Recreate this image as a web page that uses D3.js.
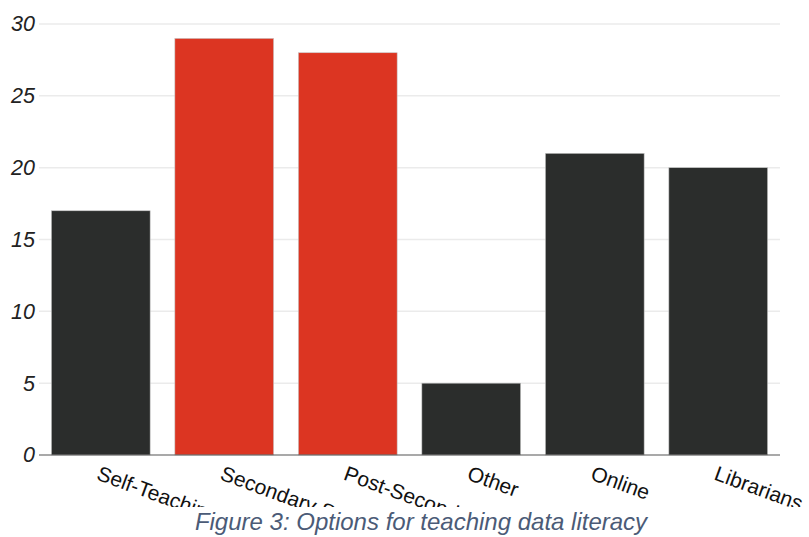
<!DOCTYPE html>
<html><head><meta charset="utf-8">
<script src="https://cdn.jsdelivr.net/npm/d3@7"></script>
<style>
body{margin:0;background:#fff;}
svg{display:block;font-family:"Liberation Sans",Arial,sans-serif;}
</style></head>
<body>
<svg id="chart" width="809" height="537"></svg>
<script>
const categories = ["Self-Teaching","Secondary School","Post-Secondary","Other","Online","Librarians"];
const values = [17, 29, 28, 5, 21, 20];
const highlighted = [false, true, true, false, false, false];
const yTicks = [0, 5, 10, 15, 20, 25, 30];
const caption = "Figure 3: Options for teaching data literacy";

(function(){
const svg = d3.select("#chart");
const mL = 39, mR = 780, mT = 24, mB = 455;

const x = d3.scaleBand().domain(categories).range([mL, mR]).paddingInner(0.2).paddingOuter(0.1);
const y = d3.scaleLinear().domain([0, 30]).range([mB, mT]);

svg.append("g").selectAll("line").data(yTicks.filter(d => d > 0)).join("line")
  .attr("x1", mL).attr("x2", mR)
  .attr("y1", d => y(d)).attr("y2", d => y(d))
  .attr("stroke", "#ebebeb").attr("stroke-width", 1.5);

svg.append("g").selectAll("rect").data(categories).join("rect")
  .attr("x", d => x(d)).attr("width", x.bandwidth())
  .attr("y", (d, i) => y(values[i])).attr("height", (d, i) => y(0) - y(values[i]))
  .attr("fill", (d, i) => highlighted[i] ? "#dc3522" : "#2b2d2c")
  .attr("stroke", "#c8c8c8").attr("stroke-width", 0.6);

const yAxis = d3.axisLeft(y).tickValues(yTicks).tickSize(0).tickPadding(4);
const gy = svg.append("g").attr("transform", `translate(${mL},0)`).call(yAxis);
gy.select(".domain").remove();
gy.selectAll("text").attr("font-size", 21.5).attr("font-style", "italic")
  .attr("fill", "#222").attr("font-family", "Liberation Sans, Arial, sans-serif");

svg.append("line").attr("x1", mL).attr("x2", mR).attr("y1", mB).attr("y2", mB)
  .attr("stroke", "#555").attr("stroke-width", 1.2);

svg.append("clipPath").attr("id", "xclip").append("rect")
  .attr("x", 0).attr("y", mB).attr("width", 809).attr("height", 507 - mB);
const xAxis = d3.axisBottom(x).tickSize(0).tickPadding(0);
const gx = svg.append("g").attr("clip-path", "url(#xclip)")
  .append("g").attr("transform", `translate(0,${mB})`).call(xAxis);
gx.select(".domain").remove();
gx.selectAll("text")
  .attr("font-size", 21).attr("fill", "#111")
  .attr("font-family", "Liberation Sans, Arial, sans-serif")
  .attr("text-anchor", "start").attr("dy", null).attr("y", 0)
  .attr("transform", "translate(0,10) rotate(20)")
  .attr("dominant-baseline", "hanging");

svg.append("text").attr("x", 421).attr("y", 530).attr("text-anchor", "middle")
  .attr("font-size", 24).attr("font-style", "italic").attr("fill", "#4b5b77")
  .text(caption);
})();
</script>
</body></html>
